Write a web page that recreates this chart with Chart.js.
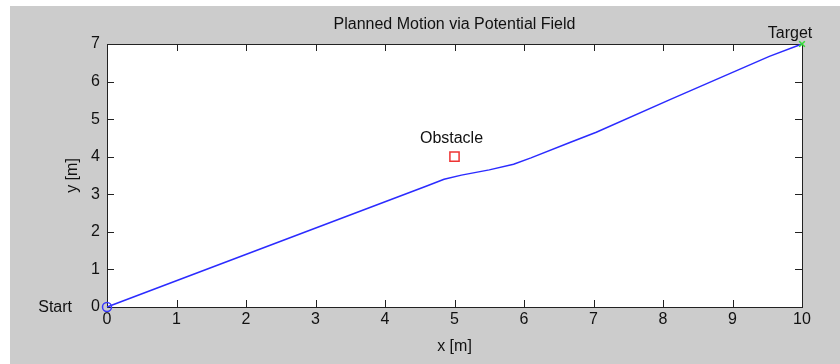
<!DOCTYPE html>
<html>
<head>
<meta charset="utf-8">
<script src="https://cdn.jsdelivr.net/npm/chart.js@4"></script>
<style>
html,body{margin:0;padding:0;background:#fff;}
#wrap{width:840px;height:364px;position:relative;}
</style>
</head>
<body>
<div id="wrap"><canvas id="c" width="840" height="364"></canvas></div>
<script>
// ---- data ----
const titleText = 'Planned Motion via Potential Field';
const xLabel = 'x [m]';
const yLabel = 'y [m]';
const pathX = [0, 4.6, 4.85, 5.1, 5.5, 5.85, 6.1, 6.66, 7.04, 8.1, 9.53, 10];
const pathY = [0, 3.22, 3.40, 3.51, 3.65, 3.80, 3.97, 4.38, 4.65, 5.52, 6.67, 7];
const startPt = {x: 0, y: 0, label: 'Start'};
const obstaclePt = {x: 5, y: 4, label: 'Obstacle'};
const targetPt = {x: 10, y: 7, label: 'Target'};
const xTicks = [0,1,2,3,4,5,6,7,8,9,10];
const yTicks = [0,1,2,3,4,5,6,7];

const FONT = "'Liberation Sans', Arial, sans-serif";
const TXT = '#111';

const pathData = pathX.map((x, i) => ({x, y: pathY[i]}));

const bgPlugin = {
  id: 'bg',
  beforeDraw(chart) {
    const ctx = chart.ctx;
    ctx.save();
    ctx.fillStyle = '#ffffff';
    ctx.fillRect(0, 0, chart.width, chart.height);
    ctx.fillStyle = '#cccccc';
    ctx.fillRect(10, 6, chart.width - 10, chart.height - 6);
    const a = chart.chartArea;
    ctx.fillStyle = '#ffffff';
    ctx.fillRect(a.left, a.top, a.right - a.left, a.bottom - a.top);
    ctx.restore();
  },
  beforeDatasetsDraw(chart) {
    const ctx = chart.ctx;
    const a = chart.chartArea;
    const xs = chart.scales.x, ys = chart.scales.y;
    ctx.save();
    ctx.strokeStyle = '#222';
    ctx.lineWidth = 1;
    ctx.strokeRect(Math.round(a.left) + 0.5, Math.round(a.top) + 0.5, Math.round(a.right - a.left), Math.round(a.bottom - a.top));
    const tl = 7;
    ctx.beginPath();
    xTicks.forEach(v => {
      const px = Math.round(xs.getPixelForValue(v)) + 0.5;
      ctx.moveTo(px, a.bottom); ctx.lineTo(px, a.bottom - tl);
      ctx.moveTo(px, a.top); ctx.lineTo(px, a.top + tl);
    });
    yTicks.forEach(v => {
      const py = Math.round(ys.getPixelForValue(v)) + 0.5;
      ctx.moveTo(a.left, py); ctx.lineTo(a.left + tl, py);
      ctx.moveTo(a.right, py); ctx.lineTo(a.right - tl, py);
    });
    ctx.stroke();
    // title
    ctx.fillStyle = TXT;
    ctx.font = '16px ' + FONT;
    ctx.textAlign = 'center';
    ctx.textBaseline = 'middle';
    ctx.fillText(titleText, (a.left + a.right) / 2, a.top - 19);
    // annotations
    ctx.textAlign = 'right';
    ctx.fillText(startPt.label, xs.getPixelForValue(startPt.x) - 35, ys.getPixelForValue(startPt.y) + 1);
    ctx.textAlign = 'center';
    ctx.fillText(targetPt.label, xs.getPixelForValue(targetPt.x) - 12, ys.getPixelForValue(targetPt.y) - 10.5);
    ctx.fillText(obstaclePt.label, xs.getPixelForValue(obstaclePt.x) - 3, ys.getPixelForValue(obstaclePt.y) - 18);
    ctx.restore();
  }
};

new Chart(document.getElementById('c'), {
  type: 'scatter',
  data: {
    datasets: [
      {
        data: pathData, showLine: true, borderColor: '#2b2bff', borderWidth: 1.5,
        pointRadius: 0, fill: false, tension: 0, order: 2, clip: false
      },
      {
        data: [{x: startPt.x, y: startPt.y}], pointStyle: 'circle', pointRadius: 4.5,
        borderColor: '#3a3aff', backgroundColor: 'rgba(0,0,0,0)', borderWidth: 1.5, order: 1, clip: false
      },
      {
        data: [{x: obstaclePt.x, y: obstaclePt.y}], pointStyle: 'rect', pointRadius: 6.5,
        borderColor: '#ee3333', backgroundColor: 'rgba(0,0,0,0)', borderWidth: 1.5, order: 1, clip: false
      },
      {
        data: [{x: targetPt.x, y: targetPt.y}], pointStyle: 'crossRot', pointRadius: 4,
        borderColor: '#33dd33', borderWidth: 1.5, order: 0, clip: false
      }
    ]
  },
  options: {
    responsive: false,
    animation: false,
    events: [],
    layout: {padding: {top: 44, right: 38, left: 0, bottom: 0}},
    plugins: {legend: {display: false}, tooltip: {enabled: false}, title: {display: false}},
    scales: {
      x: {
        type: 'linear', min: 0, max: 10,
        afterFit(s) { s.height = 57; },
        afterBuildTicks(s) { s.ticks = xTicks.map(v => ({value: v})); },
        grid: {display: false, drawTicks: false},
        border: {display: false},
        ticks: {color: TXT, font: {family: FONT, size: 16}, padding: 3, maxRotation: 0, autoSkip: false},
        title: {display: true, text: xLabel, color: TXT, font: {family: FONT, size: 16}, padding: {top: 0, bottom: 8}}
      },
      y: {
        type: 'linear', min: 0, max: 7,
        afterFit(s) { s.width = 107; },
        afterBuildTicks(s) { s.ticks = yTicks.map(v => ({value: v})); },
        grid: {display: false, drawTicks: false},
        border: {display: false},
        ticks: {color: TXT, font: {family: FONT, size: 16}, padding: 7, autoSkip: false},
        title: {display: true, text: yLabel, color: TXT, font: {family: FONT, size: 16}, padding: {top: 63, bottom: 0}}
      }
    }
  },
  plugins: [bgPlugin]
});
</script>
</body>
</html>
